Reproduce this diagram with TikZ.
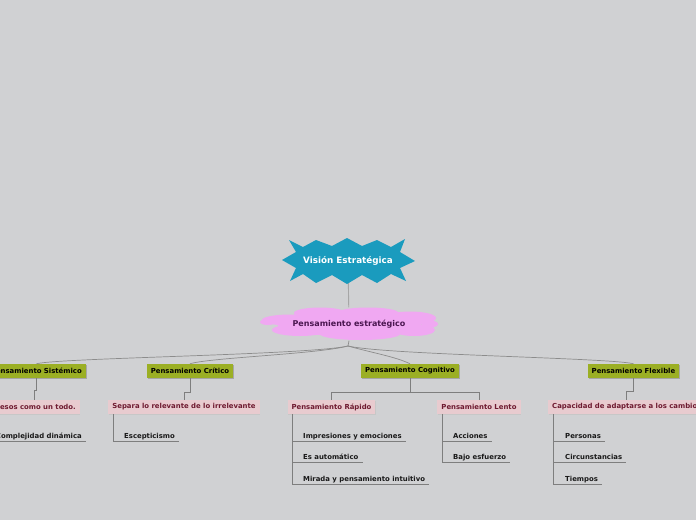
\documentclass[tikz,border=0pt]{standalone}
\usepackage{fontspec}
\setmainfont{DejaVu Sans}
\usetikzlibrary{shadows}
\pgfdeclarelayer{fondo}
\pgfsetlayers{fondo,main}
\definecolor{gris}{HTML}{D0D1D3}
\definecolor{azul}{HTML}{1A9BBE}
\definecolor{rosa}{HTML}{F0A8F2}
\definecolor{morado}{HTML}{4A1650}
\definecolor{oliva}{HTML}{9BAF24}
\definecolor{rosita}{HTML}{E8CBCF}
\definecolor{vino}{HTML}{6E1A30}
\definecolor{linea}{HTML}{8C8C8C}
\tikzset{
  tema/.style={fill=oliva, font=\bfseries\fontsize{6.9}{8}\selectfont,
    minimum height=14pt, inner xsep=4pt, inner ysep=0pt,
    drop shadow={shadow xshift=0.8pt, shadow yshift=-1pt, fill=black!35, opacity=1}},
  subtema/.style={fill=rosita, text=vino, font=\bfseries\fontsize{6.9}{8}\selectfont,
    minimum height=14pt, inner xsep=4pt, inner ysep=0pt,
    drop shadow={shadow xshift=0.6pt, shadow yshift=-1pt, fill=black!22, opacity=1}},
  hoja/.style={font=\bfseries\fontsize{6.9}{8}\selectfont, text=black!90,
    inner sep=0pt, anchor=base west},
  enlace/.style={draw=linea, line width=0.7pt},
  rama/.style={draw=linea!90!black, line width=0.8pt}
}
\begin{document}
\begin{tikzpicture}[x=1pt,y=-1pt]
\useasboundingbox (0,0) rectangle (696,520);
\clip (0,0) rectangle (696,520);
\begin{pgfonlayer}{fondo}
\fill[gris] (0,0) rectangle (696,520);
\end{pgfonlayer}

% idea central
\fill[azul] (282,260) -- (296,252) -- (289,240) -- (303,247) -- (316,240)
  -- (332,246) -- (347,238) -- (362,246) -- (377,240) -- (391,247)
  -- (405,239) -- (400,252) -- (415,261) -- (400,268) -- (406,281)
  -- (391,274) -- (377,283) -- (362,275) -- (347,284) -- (332,275)
  -- (316,283) -- (303,274) -- (290,281) -- (296,268) -- cycle;
\node[text=white, font=\bfseries\fontsize{8.8}{10}\selectfont, minimum height=42pt] (vision) at (348,261) {Visión Estratégica};

% nube
\fill[rosa] (349,324) ellipse [x radius=72, y radius=12]
  (290,320) ellipse [x radius=28, y radius=5.5]
  (320,313) ellipse [x radius=26, y radius=5.5]
  (368,312.5) ellipse [x radius=30, y radius=5]
  (410,318) ellipse [x radius=26, y radius=6.5]
  (300,330) ellipse [x radius=28, y radius=6]
  (360,334) ellipse [x radius=40, y radius=6]
  (414,330) ellipse [x radius=21, y radius=6]
  (268,322) ellipse [x radius=8, y radius=3]
  (430,324) ellipse [x radius=8, y radius=3.5];
\node[text=morado, font=\bfseries\fontsize{8}{9}\selectfont, minimum height=33pt] (pens) at (349,324) {Pensamiento estratégico};

\begin{pgfonlayer}{fondo}
\draw[draw=black!35, line width=0.9pt] (vision) -- (pens);
\end{pgfonlayer}

% primer nivel
\node[tema, anchor=east] (sist) at (86,371) {Pensamiento Sistémico};
\node[tema] (crit) at (190,371) {Pensamiento Crítico};
\node[tema] (cogn) at (410,371) {Pensamiento Cognitivo};
\node[tema] (flex) at (633.5,371) {Pensamiento Flexible};

\coordinate (nudo) at (348,346);
\draw[enlace] (pens.south) -- (nudo);
\draw[enlace] (nudo) .. controls +(-40,9) and +(22,-6) .. (sist.north);
\draw[enlace] (nudo) .. controls +(-30,8) and +(18,-6) .. (crit.north);
\draw[enlace] (nudo) .. controls +(25,7) and +(-14,-7) .. (cogn.north);
\draw[enlace] (nudo) .. controls +(40,9) and +(-22,-6) .. (flex.north);

% segundo nivel
\node[subtema, anchor=east] (todo) at (80,407) {Procesos como un todo.};
\node[subtema] (separa) at (184,407) {Separa lo relevante de lo irrelevante};
\node[subtema] (rapido) at (331.5,407) {Pensamiento Rápido};
\node[subtema] (lento) at (479,407) {Pensamiento Lento};
\node[subtema, anchor=west] (adapta) at (548,407) {Capacidad de adaptarse a los cambios};

\draw[rama] (sist.south) -- ++(0,12) -| ([xshift=5pt]todo.north);
\draw[rama] (crit.south) -- ++(0,14) -| (separa.north);
\draw[rama] (cogn.south) -- ++(0,14) coordinate (reparto) -| (rapido.north);
\draw[rama] (reparto) -| (lento.north);
\draw[rama] (flex.south) -- ++(0,13) -| (adapta.north);

% hojas
\node[hoja, anchor=base east] (compl) at (82,438.5) {Complejidad dinámica};
\draw[rama] ([xshift=5pt]todo.south west) |- ([shift={(4pt,-3pt)}]compl.base east);

\node[hoja] (escep) at (124,438.5) {Escepticismo};
\draw[rama] ([xshift=5pt]separa.south west) |- ([shift={(4pt,-3pt)}]escep.base east);

\node[hoja] (impre) at (303,438.5) {Impresiones y emociones};
\node[hoja] (auto) at (303,459.5) {Es automático};
\node[hoja] (mirada) at (303,481) {Mirada y pensamiento intuitivo};
\draw[rama] ([xshift=5pt]rapido.south west) |- ([shift={(4pt,-3pt)}]impre.base east);
\draw[rama] ([xshift=5pt]rapido.south west) |- ([shift={(4pt,-3pt)}]auto.base east);
\draw[rama] ([xshift=5pt]rapido.south west) |- ([shift={(4pt,-3pt)}]mirada.base east);

\node[hoja] (acci) at (453,438.5) {Acciones};
\node[hoja] (bajo) at (453,459.5) {Bajo esfuerzo};
\draw[rama] ([xshift=5pt]lento.south west) |- ([shift={(4pt,-3pt)}]acci.base east);
\draw[rama] ([xshift=5pt]lento.south west) |- ([shift={(4pt,-3pt)}]bajo.base east);

\node[hoja] (perso) at (565,438.5) {Personas};
\node[hoja] (circ) at (565,459.5) {Circunstancias};
\node[hoja] (tiem) at (565,481) {Tiempos};
\draw[rama] ([xshift=5pt]adapta.south west) |- ([shift={(4pt,-3pt)}]perso.base east);
\draw[rama] ([xshift=5pt]adapta.south west) |- ([shift={(4pt,-3pt)}]circ.base east);
\draw[rama] ([xshift=5pt]adapta.south west) |- ([shift={(4pt,-3pt)}]tiem.base east);
\end{tikzpicture}
\end{document}
